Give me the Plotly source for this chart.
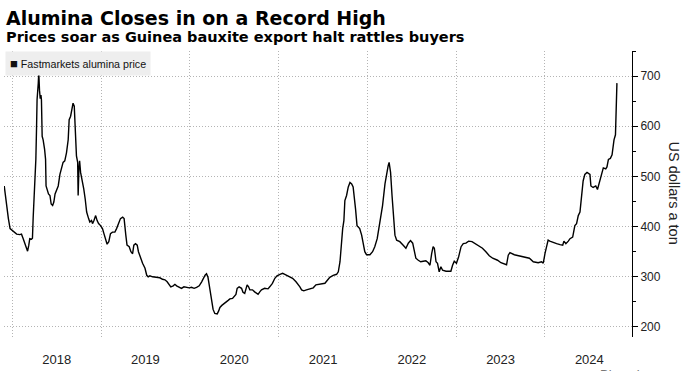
import plotly.graph_objects as go

dates = [
"2017-11-29","2017-12-09","2017-12-16","2017-12-23","2018-01-02","2018-01-12","2018-01-19","2018-02-01",
"2018-02-08","2018-02-15","2018-02-22","2018-03-01","2018-03-05","2018-03-10","2018-03-14","2018-03-21",
"2018-03-25","2018-03-28","2018-04-01","2018-04-05","2018-04-08","2018-04-11","2018-04-13","2018-04-18",
"2018-04-20","2018-04-23","2018-04-26","2018-04-29","2018-05-01","2018-05-04","2018-05-08","2018-05-14",
"2018-05-18","2018-05-20","2018-05-25","2018-05-30","2018-06-05","2018-06-10","2018-06-16","2018-06-21",
"2018-06-26","2018-07-02","2018-07-09","2018-07-16","2018-07-23","2018-07-29","2018-08-05","2018-08-12",
"2018-08-19","2018-08-23","2018-08-29","2018-09-03","2018-09-08","2018-09-13","2018-09-17","2018-09-22",
"2018-09-27","2018-09-29","2018-10-02","2018-10-05","2018-10-09","2018-10-13","2018-10-17","2018-10-22",
"2018-10-28","2018-11-03","2018-11-11","2018-11-16","2018-11-23","2018-11-27","2018-12-03","2018-12-10",
"2018-12-16","2018-12-22","2018-12-30","2019-01-07","2019-01-13","2019-01-21","2019-01-26","2019-02-02",
"2019-02-09","2019-02-17","2019-02-27","2019-03-06","2019-03-13","2019-03-22","2019-03-31","2019-04-06",
"2019-04-13","2019-04-18","2019-04-27","2019-05-04","2019-05-11","2019-05-16","2019-05-23","2019-05-30",
"2019-06-04","2019-06-13","2019-06-21","2019-07-01","2019-07-08","2019-07-14","2019-07-21","2019-08-01",
"2019-08-11","2019-08-20","2019-08-31","2019-09-11","2019-09-21","2019-09-30","2019-10-08","2019-10-15",
"2019-10-25","2019-11-01","2019-11-08","2019-11-17","2019-11-28","2019-12-08","2019-12-19","2019-12-30",
"2020-01-08","2020-01-19","2020-01-29","2020-02-09","2020-02-19","2020-02-26","2020-03-04","2020-03-10",
"2020-03-16","2020-03-21","2020-03-27","2020-04-01","2020-04-06","2020-04-13","2020-04-23","2020-04-29",
"2020-05-04","2020-05-12","2020-05-21","2020-05-29","2020-06-07","2020-06-14","2020-06-25","2020-07-09",
"2020-07-14","2020-07-22","2020-08-01","2020-08-07","2020-08-14","2020-08-24","2020-08-30","2020-09-04",
"2020-09-15","2020-09-24","2020-10-08","2020-10-15","2020-10-22","2020-11-04","2020-11-18","2020-11-25",
"2020-12-06","2020-12-16","2020-12-25","2021-01-06","2021-01-17","2021-01-26","2021-02-05","2021-02-16",
"2021-02-27","2021-03-13","2021-03-22","2021-03-29","2021-04-05","2021-04-14","2021-04-25","2021-05-09",
"2021-05-23","2021-06-03","2021-06-12","2021-06-19","2021-07-10","2021-07-30","2021-08-13","2021-08-27",
"2021-09-03","2021-09-10","2021-09-17","2021-09-21","2021-09-26","2021-09-30","2021-10-07","2021-10-14",
"2021-10-21","2021-10-28","2021-11-03","2021-11-07","2021-11-13","2021-11-19","2021-11-30","2021-12-08",
"2021-12-14","2021-12-21","2021-12-28","2022-01-11","2022-01-22","2022-01-31","2022-02-10","2022-02-18",
"2022-02-24","2022-03-04","2022-03-14","2022-03-21","2022-03-27","2022-03-31","2022-04-06","2022-04-12",
"2022-04-17","2022-04-24","2022-05-01","2022-05-14","2022-05-28","2022-06-08","2022-06-18","2022-06-27",
"2022-07-06","2022-07-11","2022-07-19","2022-07-29","2022-08-08","2022-08-18","2022-08-29","2022-09-08",
"2022-09-15","2022-09-22","2022-09-28","2022-10-03","2022-10-10","2022-10-16","2022-10-23","2022-10-30",
"2022-11-06","2022-11-20","2022-12-10","2022-12-17","2022-12-24","2023-01-02","2023-01-11","2023-01-21",
"2023-01-30","2023-02-10","2023-02-21","2023-03-07","2023-03-21","2023-04-06","2023-04-19","2023-05-03",
"2023-05-17","2023-05-31","2023-06-20","2023-07-04","2023-07-22","2023-07-27","2023-08-03","2023-08-10",
"2023-08-28","2023-09-17","2023-10-08","2023-10-29","2023-11-14","2023-12-04","2023-12-18","2023-12-25",
"2024-01-01","2024-01-08","2024-01-14","2024-01-21","2024-02-04","2024-02-18","2024-03-03","2024-03-14",
"2024-03-19","2024-03-27","2024-04-06","2024-04-13","2024-04-24","2024-04-29","2024-05-03","2024-05-10",
"2024-05-17","2024-05-24","2024-05-31","2024-06-06","2024-06-13","2024-06-22","2024-07-04","2024-07-08",
"2024-07-17","2024-07-28","2024-08-04","2024-08-11","2024-08-21","2024-08-28","2024-09-07","2024-09-12",
"2024-09-18","2024-09-26","2024-10-03","2024-10-07","2024-10-11","2024-10-17","2024-10-19","2024-10-23",
]

prices = [
481,435,416,396,392,389,385,384,
385,376,366,356,351,363,376,375,
377,418,455,481,534,600,653,686,
707,672,655,662,653,580,573,554,
534,481,472,465,462,445,442,449,
465,472,481,504,521,528,531,547,
573,613,620,633,646,640,600,541,
528,462,514,531,508,498,495,475,
455,429,416,409,412,406,412,422,
412,406,402,396,386,373,365,370,
386,389,389,396,406,416,419,416,
383,363,360,350,346,363,366,363,
350,337,327,317,303,300,302,300,
299,298,298,295,294,290,285,280,
282,285,282,280,277,280,279,278,
279,277,279,282,290,298,303,306,
299,284,264,247,235,227,226,232,
239,243,246,249,253,256,257,265,
277,280,277,269,267,284,280,274,
274,270,265,270,274,277,276,280,
287,297,302,305,307,305,303,300,
297,290,285,280,274,272,274,276,
278,284,285,286,287,299,303,305,
310,330,376,396,412,452,462,479,
488,485,479,455,435,402,396,383,
370,350,344,344,350,360,376,399,
422,442,485,508,521,528,508,462,
422,383,373,370,363,357,367,372,
367,353,337,333,330,331,332,328,
323,346,360,357,330,327,310,320,
313,311,311,323,331,327,340,360,
366,367,371,370,366,361,357,350,
342,337,333,328,324,324,343,348,
344,342,340,337,330,328,330,327,
346,363,373,371,368,366,364,363,
371,366,371,376,379,389,402,406,
422,429,472,491,504,508,504,481,
478,481,474,488,504,517,515,519,
534,536,543,563,573,583,633,686,
]

y_ticks = [200, 300, 400, 500, 600, 700]
series_name = "Fastmarkets alumina price"
title = "Alumina Closes in on a Record High"
subtitle = "Prices soar as Guinea bauxite export halt rattles buyers"
y_title = "US dollars a ton"
source = "Bloomberg"

fig = go.Figure()
fig.add_trace(go.Scatter(
    x=dates, y=prices, mode="lines", name=series_name,
    line=dict(color="#000000", width=1.4), showlegend=False,
))

fig.update_layout(
    width=688, height=371,
    margin=dict(l=4, r=56, t=51, b=32),
    paper_bgcolor="white", plot_bgcolor="white",
    font=dict(family="Liberation Sans, Arial, sans-serif", color="#222222", size=12),
    showlegend=False,
)

grid_dash = "1px,2px"

fig.update_xaxes(
    type="date", range=["2017-11-28", "2024-12-24"],
    tick0="2018-01-01", dtick="M12", tickformat="%Y", ticklabelmode="period",
    showgrid=True, gridcolor="#b4b4b4", griddash=grid_dash, gridwidth=1,
    showline=False, zeroline=False, ticks="", ticklabelstandoff=13,
    tickfont=dict(size=13, color="#222222"),
)

fig.update_yaxes(
    side="right", range=[180, 750], tickvals=y_ticks,
    showgrid=True, gridcolor="#b4b4b4", griddash=grid_dash, gridwidth=1,
    showline=True, linecolor="#000000", linewidth=1, zeroline=False,
    ticks="outside", ticklen=5, tickcolor="#000000", tickwidth=1,
    minor=dict(dtick=50, tick0=0, ticks="outside", ticklen=3, tickcolor="#000000", showgrid=False),
    tickfont=dict(size=12, color="#222222"),
)

fig.add_annotation(
    xref="paper", yref="paper", x=0, y=1.1146, xanchor="left", yanchor="middle",
    text="<b>" + title + "</b>", showarrow=False,
    font=dict(family="DejaVu Sans", size=19, color="#000000"),
)
fig.add_annotation(
    xref="paper", yref="paper", x=0, y=1.0486, xanchor="left", yanchor="middle",
    text="<b>" + subtitle + "</b>", showarrow=False,
    font=dict(family="DejaVu Sans", size=14.5, color="#000000"),
)
fig.add_annotation(
    xref="paper", yref="paper", x=0, y=1, xanchor="left", yanchor="top", xshift=1,
    text="<span style='font-size:13px'>■</span> " + series_name, showarrow=False,
    bgcolor="#eeeeee", borderpad=4,
    font=dict(family="Liberation Sans", size=10.7, color="#111111"),
)
fig.add_annotation(
    xref="paper", yref="paper", x=1.0669, y=0.505, xanchor="center", yanchor="middle",
    text=y_title, textangle=90, showarrow=False,
    font=dict(family="Liberation Sans", size=14.5, color="#222222"),
)
fig.add_annotation(
    xref="paper", yref="paper", x=0.946, y=-0.097, xanchor="left", yanchor="top",
    text=source, showarrow=False,
    font=dict(family="Liberation Sans", size=13, color="#777777"),
)

fig.write_html(
    "out.html",
    config={"displayModeBar": False},
    post_script="document.body.style.margin='0';document.body.style.overflow='hidden';",
)
